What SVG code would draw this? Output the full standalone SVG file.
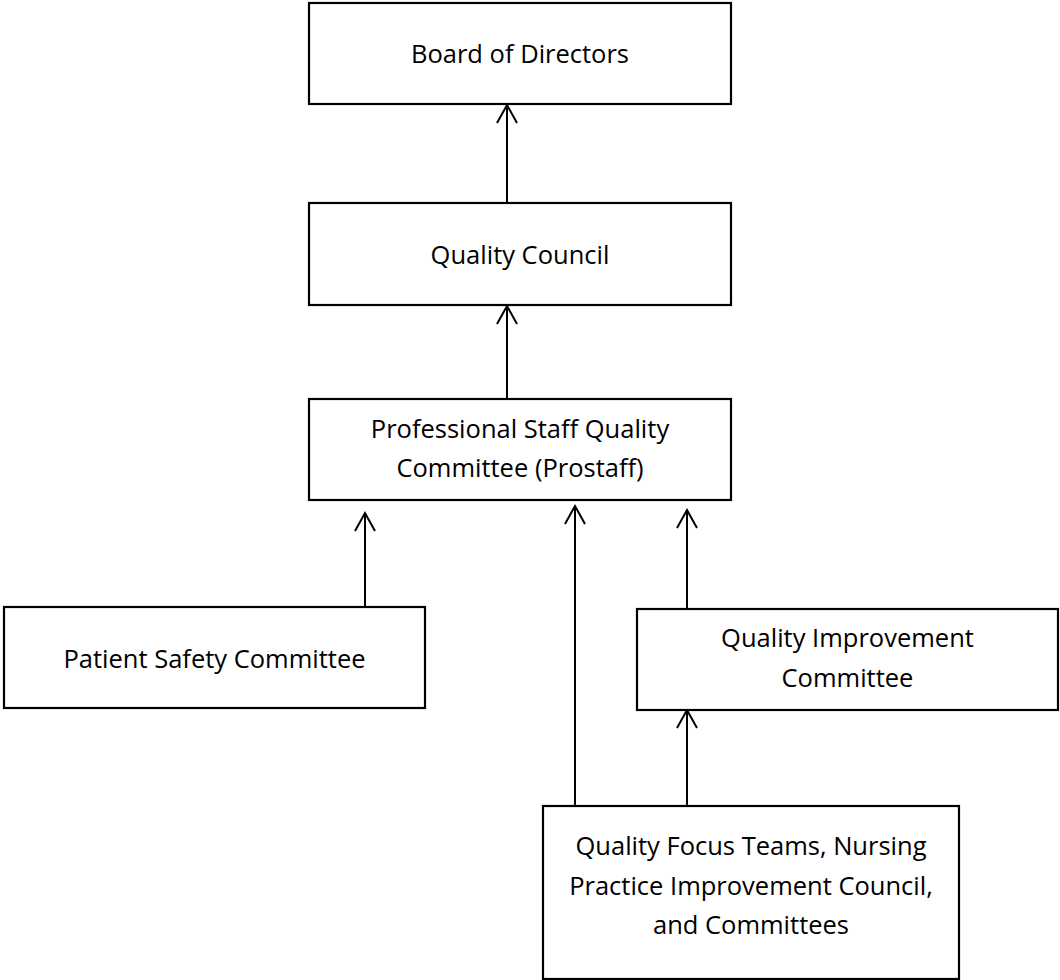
<svg xmlns="http://www.w3.org/2000/svg" width="1060" height="980" viewBox="0 0 1060 980">
<defs>
<marker id="arr" markerUnits="userSpaceOnUse" markerWidth="40" markerHeight="40" refX="0" refY="0" orient="auto" overflow="visible" viewBox="-20 -20 40 40">
<path d="M -18 -10 L 0 0 L -18 10" fill="none" stroke="#000" stroke-width="2"/>
</marker>
</defs>
<style>
.box{fill:#fff;stroke:#000;stroke-width:2.2}
.lbl{font-family:"Open Sans","Liberation Sans",sans-serif;font-size:25.5px;fill:#000;text-anchor:middle}
.con{stroke:#000;stroke-width:2;fill:none;marker-end:url(#arr)}
</style>
<rect width="1060" height="980" fill="#fff"/>
<g id="connectors">
<line class="con" x1="507" y1="203" x2="507" y2="105"/>
<line class="con" x1="507" y1="399" x2="507" y2="306"/>
<line class="con" x1="365" y1="608" x2="365" y2="513"/>
<line class="con" x1="575" y1="808" x2="575" y2="506"/>
<line class="con" x1="687" y1="609" x2="687" y2="510"/>
<line class="con" x1="687" y1="806" x2="687" y2="710"/>
</g>
<g id="board">
<rect class="box" x="309" y="3" width="422" height="101"/>
<text class="lbl" x="520" y="63">Board of Directors</text>
</g>
<g id="quality-council">
<rect class="box" x="309" y="203" width="422" height="102"/>
<text class="lbl" x="520" y="264">Quality Council</text>
</g>
<g id="prostaff">
<rect class="box" x="309" y="399" width="422" height="101"/>
<text class="lbl" x="520" y="438">Professional Staff Quality</text>
<text class="lbl" x="520" y="477">Committee (Prostaff)</text>
</g>
<g id="patient-safety">
<rect class="box" x="4" y="607" width="421" height="101"/>
<text class="lbl" x="214.5" y="668">Patient Safety Committee</text>
</g>
<g id="qi-committee">
<rect class="box" x="637" y="609" width="421" height="101"/>
<text class="lbl" x="847.5" y="647">Quality Improvement</text>
<text class="lbl" x="847.5" y="687">Committee</text>
</g>
<g id="focus-teams">
<rect class="box" x="543" y="806" width="416" height="173"/>
<text class="lbl" x="751" y="855">Quality Focus Teams, Nursing</text>
<text class="lbl" x="751" y="895">Practice Improvement Council,</text>
<text class="lbl" x="751" y="934">and Committees</text>
</g>
</svg>
